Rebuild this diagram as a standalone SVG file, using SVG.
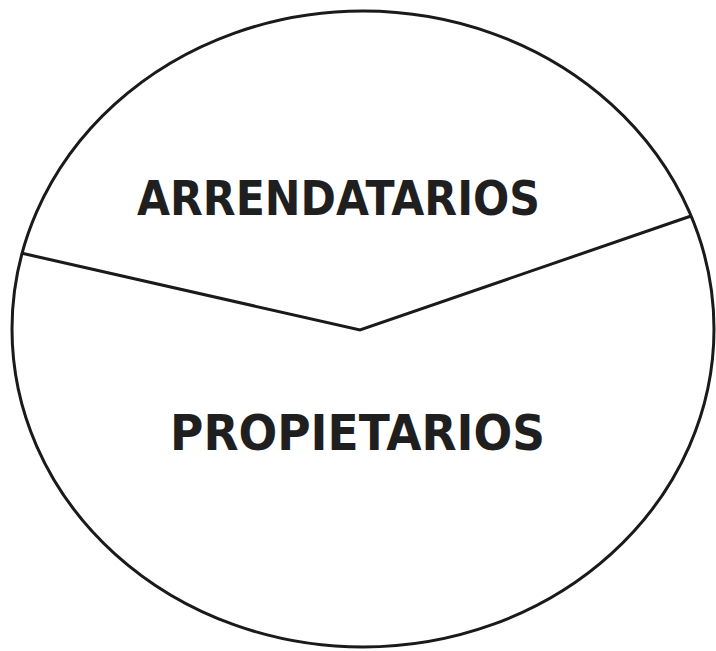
<svg xmlns="http://www.w3.org/2000/svg" width="716" height="651" viewBox="0 0 716 651">
<style>
.outline{fill:none;stroke:#1a1a1a;stroke-width:3}
.lbl{font-family:"DejaVu Sans","Liberation Sans",sans-serif;fill:#1f1f1f}
</style>
<rect width="716" height="651" fill="#ffffff"/>
<g id="pie">
<ellipse class="outline" cx="363" cy="329" rx="351" ry="318"/>
</g>
<g id="connectors">
<polyline class="outline" points="21,253 360,330 691,216"/>
</g>
<g id="arrendatarios">
<text class="lbl" x="137" y="215" font-size="48" font-weight="bold" textLength="403" lengthAdjust="spacingAndGlyphs">ARRENDATARIOS</text>
</g>
<g id="propietarios">
<text class="lbl" x="170" y="450" font-size="50" font-weight="bold" textLength="375" lengthAdjust="spacingAndGlyphs">PROPIETARIOS</text>
</g>
</svg>
